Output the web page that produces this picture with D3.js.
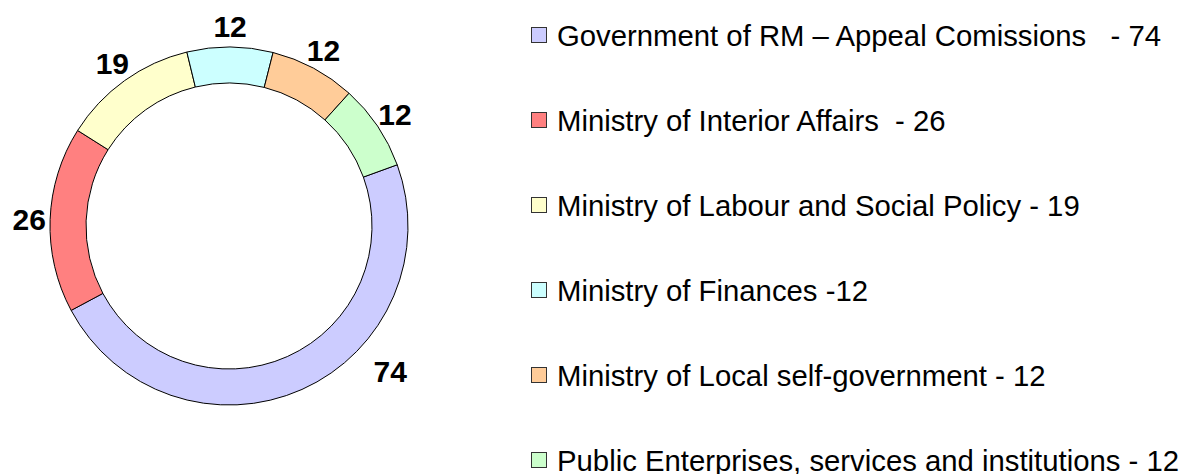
<!DOCTYPE html>
<html>
<head>
<meta charset="utf-8">
<script src="https://cdn.jsdelivr.net/npm/d3@7"></script>
<style>
  html, body { margin: 0; padding: 0; background: #fff; }
  svg { display: block; }
  text { font-family: Arial, "Liberation Sans", sans-serif; }
</style>
</head>
<body>
<svg id="chart" width="1188" height="474"></svg>
<script>
const categories = [
  "Government of RM \u2013 Appeal Comissions",
  "Ministry of Interior Affairs",
  "Ministry of Labour and Social Policy",
  "Ministry of Finances",
  "Ministry of Local self-government",
  "Public Enterprises, services and institutions"
];
const values = [74, 26, 19, 12, 12, 12];
const legendLabels = [
  "Government of RM \u2013 Appeal Comissions   - 74",
  "Ministry of Interior Affairs  - 26",
  "Ministry of Labour and Social Policy - 19",
  "Ministry of Finances -12",
  "Ministry of Local self-government - 12",
  "Public Enterprises, services and institutions - 12"
];
const colors = ["#CCCCFF", "#FF8080", "#FFFFCC", "#CCFFFF", "#FFCC99", "#CCFFCC"];

const svg = d3.select("#chart");
const cx = 229, cy = 226, rOuter = 179, rInner = 143;
const startAngle = 70 * Math.PI / 180;

const data = categories.map((c, i) => ({ category: c, value: values[i], label: legendLabels[i], color: colors[i] }));

const pie = d3.pie().value(d => d.value).sort(null)
  .startAngle(startAngle).endAngle(startAngle + 2 * Math.PI);
const arcs = pie(data);

const arc = d3.arc().innerRadius(rInner).outerRadius(rOuter);
const g = svg.append("g").attr("transform", `translate(${cx},${cy})`);

g.selectAll("path.slice").data(arcs).enter().append("path")
  .attr("class", "slice")
  .attr("d", arc)
  .attr("fill", d => d.data.color)
  .attr("stroke", "#000")
  .attr("stroke-width", 1);

// data labels
const labelArc = d3.arc().innerRadius(200).outerRadius(200);
const labelArcFar = d3.arc().innerRadius(217).outerRadius(217);
g.selectAll("text.lbl").data(arcs).enter().append("text")
  .attr("class", "lbl")
  .attr("transform", (d, i) => {
    if (i === 0) {
      const a = 132 * Math.PI / 180;
      const p = labelArcFar.centroid({ startAngle: a, endAngle: a });
      return `translate(${p[0]},${p[1]})`;
    }
    const p = labelArc.centroid(d);
    return `translate(${p[0]},${p[1]})`;
  })
  .attr("text-anchor", "middle")
  .attr("dy", "0.36em")
  .attr("font-size", "30px")
  .attr("font-weight", "bold")
  .attr("fill", "#000")
  .text(d => d.data.value);

// legend
const yLeg = d3.scalePoint().domain(categories).range([35, 460]);
const leg = svg.append("g");
const rows = leg.selectAll("g.row").data(data).enter().append("g")
  .attr("class", "row")
  .attr("transform", d => `translate(531,${yLeg(d.category)})`);
rows.append("rect")
  .attr("x", 0.5).attr("y", -7.5)
  .attr("width", 15).attr("height", 15)
  .attr("fill", d => d.color)
  .attr("stroke", "#333")
  .attr("stroke-width", 1);
rows.append("text")
  .attr("x", 26)
  .attr("y", 0)
  .attr("dy", "0.36em")
  .attr("font-size", "29.3px")
  .attr("fill", "#000")
  .style("white-space", "pre")
  .text(d => d.label);
</script>
</body>
</html>
